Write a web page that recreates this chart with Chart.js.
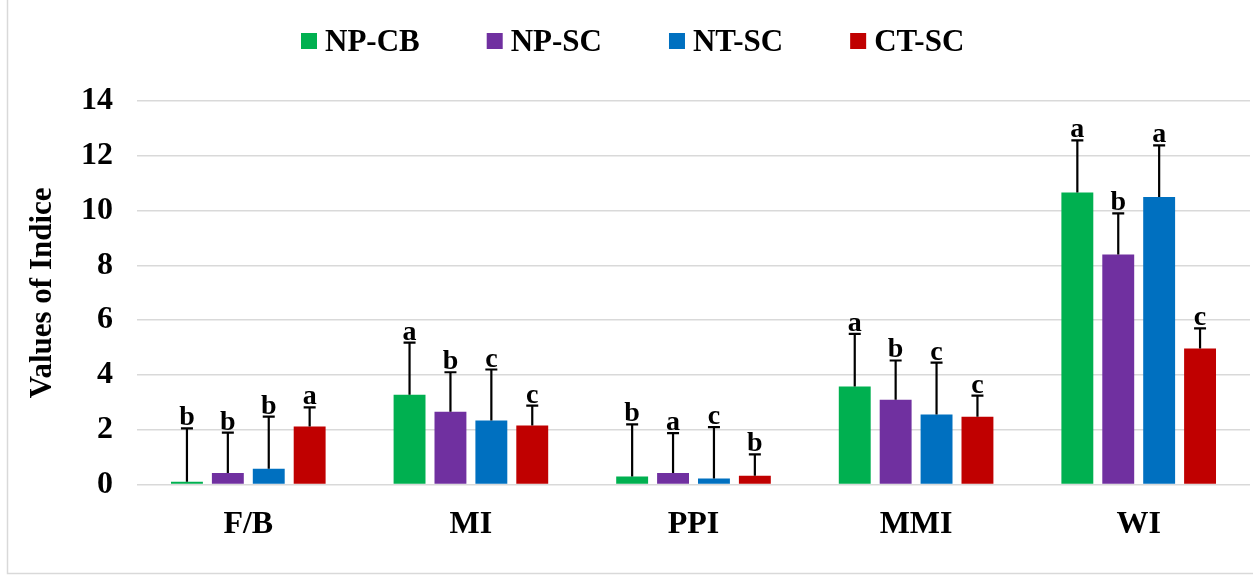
<!DOCTYPE html>
<html>
<head>
<meta charset="utf-8">
<script src="https://cdn.jsdelivr.net/npm/chart.js@4/dist/chart.umd.min.js"></script>
<style>
html,body{margin:0;padding:0;background:#fff;}
#wrap{position:relative;width:1253px;height:575px;}
</style>
</head>
<body>
<div id="wrap"><canvas id="c" width="1253" height="575"></canvas></div>
<script>
const categories = ["F/B", "MI", "PPI", "MMI", "WI"];
const seriesNames = ["NP-CB", "NP-SC", "NT-SC", "CT-SC"];
const seriesColors = ["#00B050", "#7030A0", "#0070C0", "#C00000"];
const npcb = [0.1, 3.28, 0.3, 3.58, 10.66];
const npsc = [0.42, 2.66, 0.42, 3.1, 8.4];
const ntsc = [0.58, 2.34, 0.22, 2.56, 10.5];
const ctsc = [2.12, 2.16, 0.32, 2.48, 4.97];
const npcbErr = [1.95, 1.9, 1.9, 1.92, 1.9];
const npscErr = [1.48, 1.44, 1.46, 1.43, 1.5];
const ntscErr = [1.9, 1.86, 1.88, 1.89, 1.88];
const ctscErr = [0.7, 0.72, 0.78, 0.77, 0.73];
const npcbLetters = ["b", "a", "b", "a", "a"];
const npscLetters = ["b", "b", "a", "b", "b"];
const ntscLetters = ["b", "c", "c", "c", "a"];
const ctscLetters = ["a", "c", "b", "c", "c"];
const yTicks = [0, 2, 4, 6, 8, 10, 12, 14];

const values = [npcb, npsc, ntsc, ctsc];
const errs = [npcbErr, npscErr, ntscErr, ctscErr];
const letters = [npcbLetters, npscLetters, ntscLetters, ctscLetters];

const FONT = '"Liberation Serif", "Times New Roman", serif';

const errPlugin = {
  id: 'errbars',
  beforeDraw(chart) {
    const ctx = chart.ctx;
    ctx.save();
    ctx.strokeStyle = '#d9d9d9';
    ctx.lineWidth = 1.5;
    ctx.beginPath();
    ctx.moveTo(7.5, 0);
    ctx.lineTo(7.5, 573.5);
    ctx.lineTo(1253, 573.5);
    ctx.stroke();
    ctx.restore();
  },
  afterDatasetsDraw(chart) {
    const ctx = chart.ctx;
    const y = chart.scales.y;
    ctx.save();
    chart.data.datasets.forEach((ds, di) => {
      const meta = chart.getDatasetMeta(di);
      meta.data.forEach((bar, i) => {
        const v = values[di][i];
        const top = v + errs[di][i];
        const x = bar.x;
        const y0 = y.getPixelForValue(v);
        const y1 = y.getPixelForValue(top);
        ctx.strokeStyle = '#000';
        ctx.lineWidth = 2.2;
        ctx.beginPath();
        ctx.moveTo(x, y0);
        ctx.lineTo(x, y1);
        ctx.moveTo(x - 6, y1);
        ctx.lineTo(x + 6, y1);
        ctx.stroke();
        ctx.fillStyle = '#000';
        ctx.font = 'bold 28px ' + FONT;
        ctx.textAlign = 'center';
        ctx.textBaseline = 'alphabetic';
        ctx.fillText(letters[di][i], x, y1 - 3);
      });
    });
    ctx.restore();
  },
  afterDraw(chart) {
    const ctx = chart.ctx;
    ctx.save();
    ctx.font = 'bold 31px ' + FONT;
    ctx.textBaseline = 'alphabetic';
    ctx.textAlign = 'left';
    const gapAfterText = 67, boxSize = 16, boxToText = 24;
    const widths = seriesNames.map(n => ctx.measureText(n).width);
    let x = 301;
    seriesNames.forEach((n, i) => {
      ctx.fillStyle = seriesColors[i];
      ctx.fillRect(x, 33, boxSize, boxSize);
      ctx.fillStyle = '#000';
      ctx.fillText(n, x + boxToText, 51);
      x += boxToText + widths[i] + gapAfterText;
    });
    ctx.restore();
  }
};

new Chart(document.getElementById('c'), {
  type: 'bar',
  data: {
    labels: categories,
    datasets: seriesNames.map((n, i) => ({
      label: n,
      data: values[i],
      backgroundColor: seriesColors[i],
      borderWidth: 0,
      categoryPercentage: 0.735,
      barPercentage: 0.78
    }))
  },
  options: {
    responsive: false,
    animation: false,
    layout: { padding: { top: 101, right: 3, left: 24, bottom: 10 } },
    plugins: {
      legend: { display: false },
      tooltip: { enabled: false }
    },
    scales: {
      x: {
        grid: { display: false, drawTicks: false },
        border: { display: false },
        ticks: { font: { family: FONT, size: 32, weight: 'bold' }, color: '#000', padding: 21 }
      },
      y: {
        min: 0, max: 14,
        afterBuildTicks(s) { s.ticks = yTicks.map(v => ({ value: v })); },
        afterFit(s) { s.width = 113; },
        grid: { color: '#d9d9d9', lineWidth: 1.5, drawTicks: false },
        border: { display: false },
        ticks: { font: { family: FONT, size: 32, weight: 'bold' }, color: '#000', padding: 24 },
        title: { display: true, text: 'Values of Indice', font: { family: FONT, size: 31, weight: 'bold' }, color: '#000', padding: { top: 0, bottom: 0 } }
      }
    }
  },
  plugins: [errPlugin]
});
</script>
</body>
</html>
